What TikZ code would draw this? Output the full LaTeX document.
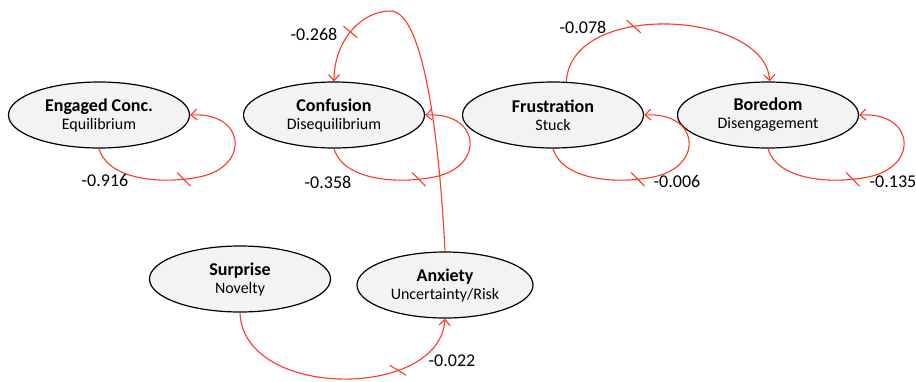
\documentclass[tikz,border=0pt]{standalone}
\usepackage{fontspec}
\setmainfont{Carlito}
\usetikzlibrary{arrows.meta,decorations.markings,calc,shapes.geometric}
\definecolor{lred}{RGB}{255,55,35}
\definecolor{efill}{RGB}{243,243,243}
\newcommand\etitle[1]{{\fontsize{18}{18}\selectfont\bfseries #1}}
\newcommand\esub[1]{{\fontsize{16}{18}\selectfont #1}}
\begin{document}
\begin{tikzpicture}[x=1pt,y=-1pt,
  emo/.style={ellipse, draw=black, line width=1.2pt, fill=efill,
    minimum width=181pt, minimum height=66pt, inner sep=0pt, align=center,
    font=\fontsize{16}{18}\selectfont},
  lk/.style={draw=lred, line width=1.1pt, -{Straight Barb[length=6pt,width=11pt]}},
  barat/.style={postaction={decorate,decoration={markings,
    mark=at position #1 with {\draw[-,lred,line width=1.1pt] (-6pt,7.5pt)--(6pt,-7.5pt);}}}},
  barperp/.style={postaction={decorate,decoration={markings,
    mark=at position #1 with {\draw[-,lred,line width=1.1pt] (0pt,9pt)--(0pt,-9pt);}}}},
  wt/.style={font=\fontsize{18}{20}\selectfont, inner sep=0pt}]
\useasboundingbox (0,0) rectangle (916,381);

\node[emo] (E) at (99,115) {\etitle{Engaged Conc.}\\\esub{Equilibrium}};
\node[emo] (C) at (334,115) {\etitle{Confusion}\\\esub{Disequilibrium}};
\node[emo] (F) at (553,115) {\etitle{Frustration}\\\esub{Stuck}};
\node[emo] (B) at (768,115) {\etitle{Boredom}\\\esub{Disengagement}};
\node[emo] (S) at (240,279) {\etitle{Surprise}\\\esub{Novelty}};
\node[emo, minimum width=176pt] (A) at (445,285) {\etitle{Anxiety}\\\esub{Uncertainty/Risk}};

\foreach \n in {E,C,F,B}{
  \draw[lk, barat=0.43] (\n.south) .. controls ($(\n.south)+(10,34)$) and ($(\n.south)+(71,36)$)
    .. ($(\n.south)+(106,27)$) .. controls ($(\n.south)+(151,14)$) and ($(\n.east)+(54,-3)$) .. (\n.east);
}

\draw[lk, barat=0.37] (F.68) .. controls (570,0) and (765,10) .. (B.87);
\draw[lk, barperp=0.85] (A.north) .. controls (440,150) and (425,10) .. (390,11)
  .. controls (362,11) and (334,40) .. (C.north);
\draw[lk, barat=0.72] (S.south) .. controls (243,400) and (440,400) .. (A.south);

\node[wt] (l1) at (105,180) {-0.916};
\node[wt] (l2) at (328,182) {-0.358};
\node[wt] (l3) at (677,181) {-0.006};
\node[wt] (l4) at (893,182) {-0.135};
\node[wt] (l5) at (583,27) {-0.078};
\node[wt] (l6) at (314,34) {-0.268};
\node[wt] (l7) at (452,361) {-0.022};
\end{tikzpicture}
\end{document}
